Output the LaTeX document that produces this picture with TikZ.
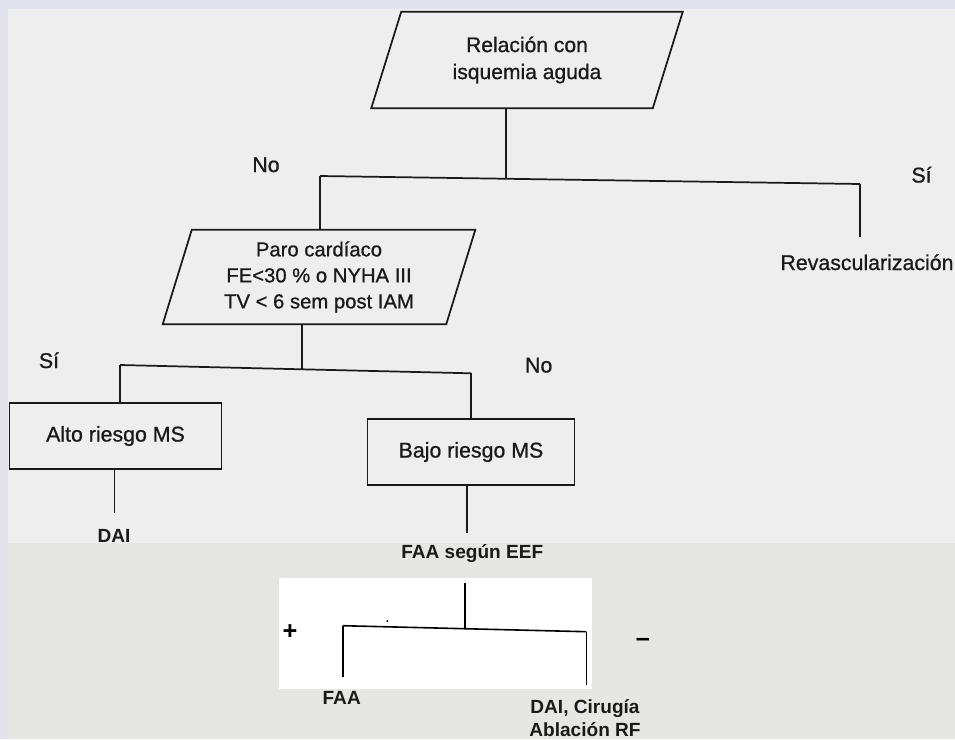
\documentclass[tikz,border=0pt]{standalone}
\usepackage{fontspec}
\setmainfont{Liberation Sans}
\newfontfamily\printfont[FakeBold=0.8]{Liberation Sans}
\usetikzlibrary{calc}
\definecolor{ink}{HTML}{1A1A1A}
\definecolor{paperup}{HTML}{EEEEEE}
\definecolor{paperlow}{HTML}{E6E6E3}
\definecolor{margin}{HTML}{E3E3EE}
\begin{document}
\begin{tikzpicture}[x=0.75pt,y=-0.75pt,
  line/.style={draw=ink,line width=1.3pt},
  thinline/.style={draw=black,line width=1.2pt},
  frame/.style={rectangle,inner sep=0pt,align=center,text=ink},
  boxed/.style={frame,draw=ink,line width=1.3pt,font=\printfont\fontsize{16}{19}\selectfont},
  lbl/.style={inner sep=0pt,text=ink,font=\printfont\fontsize{16}{19}\selectfont,anchor=base},
  blbl/.style={inner sep=0pt,text=ink,align=center,font=\bfseries\fontsize{14.3}{17}\selectfont,anchor=base},
  sign/.style={inner sep=0pt,text=black,font=\bfseries\fontsize{19}{19}\selectfont,anchor=base}
]
% paper and scan margins
\useasboundingbox (0,0) rectangle (955,739);
\fill[margin] (0,0) rectangle (955,739);
\fill[paperup] (8,9) rectangle (955,543);
\fill[paperlow] (8,543) rectangle (955,739);
\fill[white] (279,578) rectangle (591.7,689);

% decision nodes (text frames; the slanted outline is drawn around them)
\node[frame,minimum width=210.75pt,minimum height=72pt,
      font=\printfont\fontsize{15.8}{20.25}\selectfont] (p1) at (527,60) {Relación con\\isquemia aguda};
\draw[line] ([xshift=11.25pt]p1.north west) -- ([xshift=11.25pt]p1.north east)
  -- ([xshift=-11.25pt]p1.south east) -- ([xshift=-11.25pt]p1.south west) -- cycle;

\node[frame,minimum width=212.25pt,minimum height=70.5pt,
      font=\printfont\fontsize{15.2}{19.5}\selectfont] (p2) at (319,277) {Paro cardíaco\\FE<30 \% o NYHA III\\TV < 6 sem post IAM};
\draw[line] ([xshift=10.9pt]p2.north west) -- ([xshift=10.9pt]p2.north east)
  -- ([xshift=-10.9pt]p2.south east) -- ([xshift=-10.9pt]p2.south west) -- cycle;

% risk boxes
\node[boxed,minimum width=159pt,minimum height=49.5pt] (alto) at (115.5,436) {Alto riesgo MS};
\node[boxed,minimum width=155.25pt,minimum height=49.5pt] (bajo) at (471,452) {Bajo riesgo MS};

% first branching
\coordinate (b1L) at (320,176);
\coordinate (b1R) at (860,184);
\coordinate (b1M) at (506,178.8);
\coordinate (revEnd) at (860,237);
\draw[line] (p1.south -| b1M) -- (b1M);
\draw[line] (b1L) -- (b1R);
\draw[line] (b1L) -- (b1L |- p2.north);
\draw[line] (b1R) -- (revEnd);
\node[lbl] (no1) at (266,172) {No};
\node[lbl] (si1) at (921.5,182.5) {Sí};
\node[lbl] (rev) at (867,270) {Revascularización};

% second branching
\coordinate (b2L) at (120,365);
\coordinate (b2R) at (471,373.3);
\coordinate (b2M) at (302,369.3);
\draw[line] (p2.south -| b2M) -- (b2M);
\draw[line] (b2L) -- (b2R);
\draw[line] (b2L) -- (b2L |- alto.north);
\draw[line] (b2R) -- (b2R |- bajo.north);
\node[lbl] (si2) at (49,368) {Sí};
\node[lbl] (no2) at (538.7,372.5) {No};

% outcomes of the risk boxes
\coordinate (daiEnd) at (114.5,513);
\coordinate (faaEnd) at (467.3,533);
\draw[line] (daiEnd |- alto.south) -- (daiEnd);
\draw[line] (faaEnd |- bajo.south) -- (faaEnd);
\node[blbl] (dai) at (114,542) {DAI};
\node[blbl] (eef) at (472.3,558.3) {FAA según EEF};

% result of the electrophysiological study
\coordinate (b3L) at (342.7,625.7);
\coordinate (b3R) at (586.3,631.7);
\coordinate (b3M) at (465,628.7);
\coordinate (b3Ltop) at (465,582.7);
\coordinate (plusEnd) at (342.7,677.3);
\coordinate (minusEnd) at (586.3,685);
\draw[thinline] (b3Ltop) -- (b3M);
\draw[thinline] (b3L) -- (b3R);
\draw[thinline] (b3L) -- (plusEnd);
\draw[thinline] (b3R) -- (minusEnd);
\fill[black] (387.3,621) circle[radius=0.8pt];
\node[sign] (plus) at (290,639.6) {+};
\node[sign] (minus) at (643,646.5) {–};
\node[blbl] (faa) at (341.7,704) {FAA};
\node[blbl] (dai2) at (585,736) {DAI, Cirugía\\Ablación RF};
\end{tikzpicture}
\end{document}
